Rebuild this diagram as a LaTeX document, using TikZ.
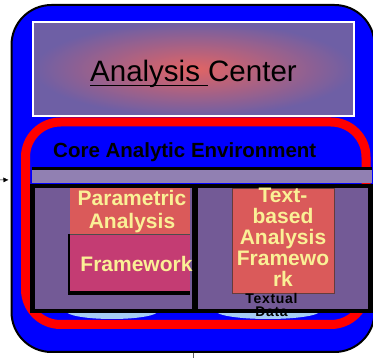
\documentclass[tikz,border=0pt]{standalone}
\usepackage{fontspec}
\setmainfont{Liberation Sans}
\usetikzlibrary{arrows.meta,shapes.geometric}
\definecolor{acblue}{RGB}{0,0,255}
\definecolor{acred}{RGB}{255,0,0}
\definecolor{acpurple}{RGB}{115,90,150}
\definecolor{aclilac}{RGB}{145,128,178}
\definecolor{acglowout}{RGB}{110,95,165}
\definecolor{acglowin}{RGB}{225,100,100}
\definecolor{acsalmon}{RGB}{218,90,90}
\definecolor{acmagenta}{RGB}{196,60,115}
\definecolor{acyellow}{RGB}{250,240,150}
\definecolor{acsky}{RGB}{165,205,245}
\newcommand\acul[1]{\setbox0\hbox{#1}\rlap{\rule[-4.5pt]{\wd0}{1.8pt}}\box0}
\begin{document}
\begin{tikzpicture}[x=1pt,y=-1pt,
  panel/.style={draw=black,line width=4.5pt,fill=acpurple,inner sep=0pt},
  block/.style={inner sep=0pt},
  tag/.style={text=acyellow,font=\bfseries\fontsize{21}{23}\selectfont,inner sep=0pt,align=center}]
\useasboundingbox (0,0) rectangle (373,358);

% Main framework
\node[draw=black,line width=2pt,fill=acblue,rounded corners=40pt,minimum width=363pt,minimum height=347pt,inner sep=0pt] (outer) at (193,178.5) {};

% Title box
\node[draw=white,line width=2.5pt,inner color=acglowin,outer color=acglowout,minimum width=321pt,minimum height=94pt,inner sep=0pt] (title) at (193.5,69) {};
\node[anchor=base west,inner sep=0pt,font=\fontsize{29.5}{35}\selectfont] (titletext) at (90,82) {\acul{Analysis\ }Center};

% Core environment ring
\draw[acred,line width=9pt,rounded corners=35pt] (25.5,122) rectangle (366,324.5);
\node[anchor=base west,inner sep=0pt,font=\bfseries\fontsize{20.5}{24}\selectfont] (core) at (53,158) {Core Analytic Environment};
\node[fill=aclilac,minimum width=340pt,minimum height=14pt,inner sep=0pt] (band) at (202,176) {};
\draw[line width=3pt] (band.north west) -- (band.north east);

% Data stores under the panels
\node[ellipse,fill=acsky,minimum width=92pt,minimum height=16pt,inner sep=0pt] (leftstore) at (112,311) {};
\node[ellipse,fill=acsky,minimum width=104pt,minimum height=16pt,inner sep=0pt] (rightstore) at (268,311) {};

% Two panels
\node[panel,minimum width=161.5pt,minimum height=125pt] (left) at (113.25,248.5) {};
\node[panel,minimum width=174.5pt,minimum height=125pt] (right) at (283.25,248.5) {};

% Parametric module
\node[block,fill=black,minimum width=122pt,minimum height=61pt] (frameshadow) at (129,264.5) {};
\node[block,fill=acsalmon,minimum width=120pt,minimum height=46pt] (param) at (130,211) {};
\node[block,fill=acmagenta,minimum width=120pt,minimum height=57pt] (frame) at (130,263) {};
\draw[black!70,line width=0.8pt] (param.south west) -- (param.south east);
\node[tag,anchor=north] (paramtext) at (132,190) {Parametric\\Analysis};
\node[tag,anchor=base] (frametext) at (136.5,272) {Framework};

% Text module
\node[block,draw={rgb,255:red,100;green,60;blue,60},line width=0.8pt,fill=acsalmon,minimum width=102pt,minimum height=105pt] (textmod) at (283,240.5) {};
\node[tag,anchor=north,font=\bfseries\fontsize{21}{21}\selectfont] (textmodtext) at (283,188) {Text-\\based\\Analysis\\Framewo\\rk};
\node[anchor=north,inner sep=0pt,align=center,font=\bfseries\fontsize{14}{12.5}\selectfont] (textual) at (271.5,293.5) {\addfontfeatures{LetterSpace=5}Textual\\\addfontfeatures{LetterSpace=5}Data};

% Connection lines
\coordinate (feed) at (-6,180);
\coordinate (down) at (193,364);
\draw[-{Latex[length=5pt,width=5pt]},shorten >=2pt] (feed) -- (outer);
\draw[black!60,line width=0.6pt] (outer.south) -- (down);
\end{tikzpicture}
\end{document}
